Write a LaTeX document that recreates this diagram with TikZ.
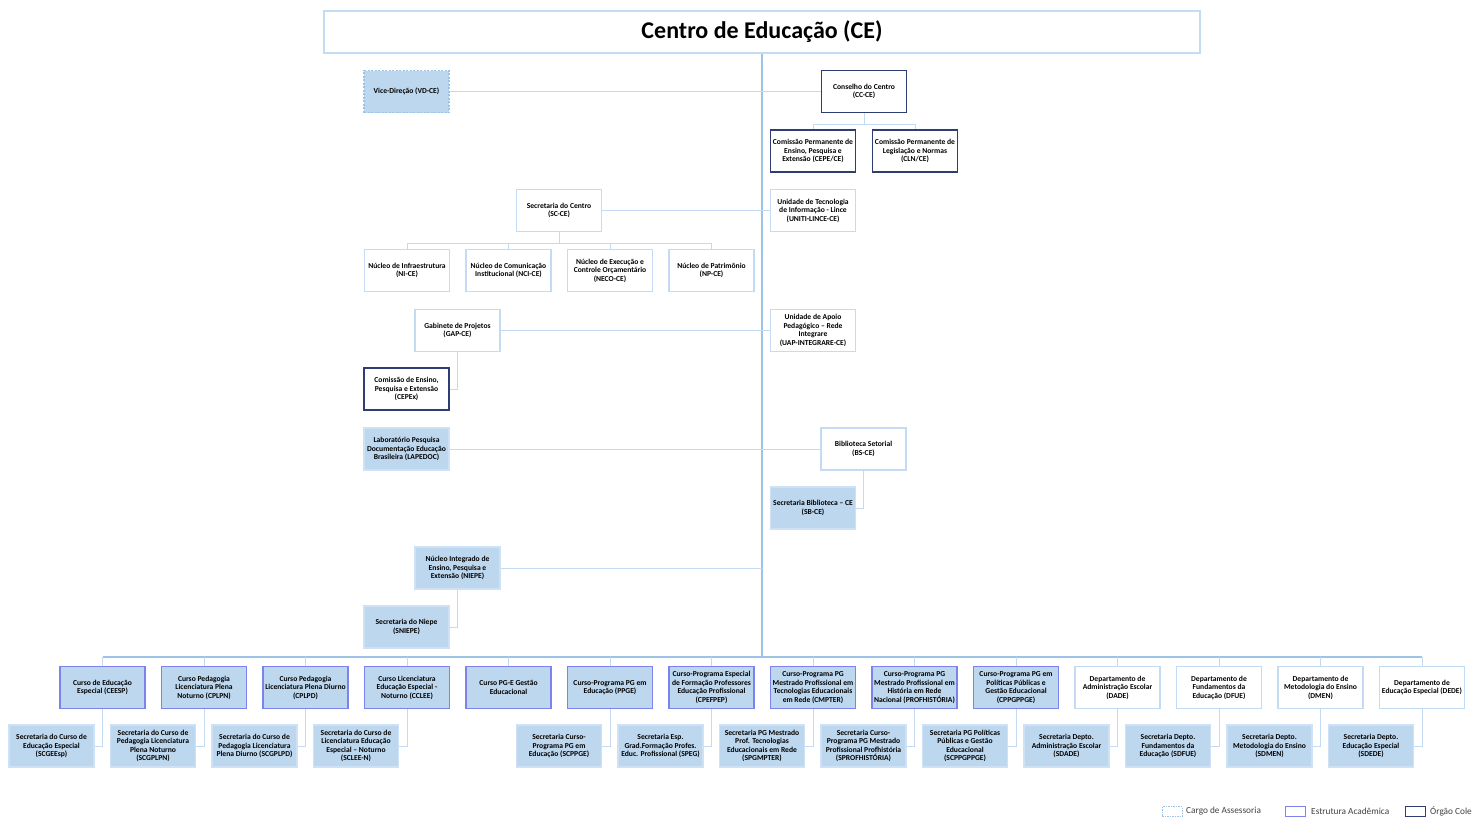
\documentclass[tikz,border=0pt]{standalone}
\usepackage{fontspec}
\setmainfont{Carlito}
\definecolor{linkblue}{HTML}{C3DAF2}
\definecolor{trunkblue}{HTML}{9DC3E6}
\definecolor{fillblue}{HTML}{BDD7EE}
\definecolor{paleedge}{HTML}{C4DBF4}
\definecolor{navyedge}{HTML}{2F3E70}
\definecolor{acadedge}{HTML}{7E83EC}
\definecolor{secedge}{HTML}{CFE2F5}
\definecolor{legendgray}{HTML}{404040}
\begin{document}
\begin{tikzpicture}[x=1pt,y=-1pt,
  orgbase/.style={rectangle, minimum width=85pt, minimum height=42pt, inner sep=0pt,
    align=center, font=\fontsize{7.6}{8.5}\selectfont\bfseries, text=black, line width=1.3pt},
  plainbox/.style={orgbase, draw=paleedge, fill=white},
  fillbox/.style={orgbase, draw=secedge, fill=fillblue},
  councilbox/.style={orgbase, draw=navyedge, fill=white, line width=1.2pt},
  coursebox/.style={orgbase, draw=acadedge, fill=fillblue},
  advbox/.style={orgbase, draw=trunkblue, fill=fillblue, dash pattern=on 2pt off 1.5pt},
  link/.style={draw=linkblue, line width=1pt},
  trunk/.style={draw=trunkblue, line width=2.6pt},
  legbox/.style={rectangle, minimum width=20pt, minimum height=10pt, inner sep=0pt, line width=1pt, fill=white},
  legtext/.style={anchor=west, inner sep=0pt, font=\fontsize{9.3}{10}\selectfont, text=legendgray}
]
\path[use as bounding box] (0,0) rectangle (1472,819);
\clip (0,0) rectangle (1472,819);

% title bar
\node[rectangle, draw=paleedge, fill=white, line width=1.3pt, minimum width=876pt, minimum height=42pt,
  font=\fontsize{24}{26}\selectfont\bfseries] (title) at (762,32) {Centro de Educação (CE)};

% upper units
\node[advbox] (vd) at (406.5,91.5) {Vice-Direção (VD-CE)};
\node[councilbox] (cc) at (864,91.5) {Conselho do Centro\\(CC-CE)};
\node[councilbox] (cepe) at (813,151) {Comissão Permanente de\\Ensino, Pesquisa e\\Extensão (CEPE/CE)};
\node[councilbox] (cln) at (915,151) {Comissão Permanente de\\Legislação e Normas\\(CLN/CE)};

\node[plainbox] (sc) at (559,210.5) {Secretaria do Centro\\(SC-CE)};
\node[plainbox] (uniti) at (813,210.5) {Unidade de Tecnologia\\de Informação - Lince\\(UNITI-LINCE-CE)};
\node[plainbox] (ni) at (407,270.5) {Núcleo de Infraestrutura\\(NI-CE)};
\node[plainbox] (nci) at (508.5,270.5) {Núcleo de Comunicação\\Institucional (NCI-CE)};
\node[plainbox] (neco) at (610,270.5) {Núcleo de Execução e\\Controle Orçamentário\\(NECO-CE)};
\node[plainbox] (np) at (711.5,270.5) {Núcleo de Patrimônio\\(NP-CE)};

\node[plainbox] (gap) at (457.5,330.5) {Gabinete de Projetos\\(GAP-CE)};
\node[plainbox] (uap) at (813,330.5) {Unidade de Apoio\\Pedagógico – Rede\\Integrare\\(UAP-INTEGRARE-CE)};
\node[councilbox] (cepex) at (406.5,389) {Comissão de Ensino,\\Pesquisa e Extensão\\(CEPEx)};

\node[fillbox] (lapedoc) at (406.5,449) {Laboratório Pesquisa\\Documentação Educação\\Brasileira (LAPEDOC)};
\node[plainbox] (bs) at (863.5,449) {Biblioteca Setorial\\(BS-CE)};
\node[fillbox] (sb) at (813,508) {Secretaria Biblioteca – CE\\(SB-CE)};

\node[fillbox] (niepe) at (457.5,568) {Núcleo Integrado de\\Ensino, Pesquisa e\\Extensão (NIEPE)};
\node[fillbox] (sniepe) at (406.5,627) {Secretaria do Niepe\\(SNIEPE)};

% courses and departments
\node[coursebox] (c0) at (102.5,687.5) {Curso de Educação\\Especial (CEESP)};
\node[coursebox] (c1) at (204,687.5) {Curso Pedagogia\\Licenciatura Plena\\Noturno (CPLPN)};
\node[coursebox] (c2) at (305.5,687.5) {Curso Pedagogia\\Licenciatura Plena Diurno\\(CPLPD)};
\node[coursebox] (c3) at (407,687.5) {Curso Licenciatura\\Educação Especial -\\Noturno (CCLEE)};
\node[coursebox] (c4) at (508.5,687.5) {Curso PG-E Gestão\\Educacional};
\node[coursebox] (c5) at (610,687.5) {Curso-Programa PG em\\Educação (PPGE)};
\node[coursebox] (c6) at (711.5,687.5) {Curso-Programa Especial\\de Formação Professores\\Educação Profissional\\(CPEFPEP)};
\node[coursebox] (c7) at (813,687.5) {Curso-Programa PG\\Mestrado Profissional em\\Tecnologias Educacionais\\em Rede (CMPTER)};
\node[coursebox] (c8) at (914.5,687.5) {Curso-Programa PG\\Mestrado Profissional em\\História em Rede\\Nacional (PROFHISTÓRIA)};
\node[coursebox] (c9) at (1016,687.5) {Curso-Programa PG em\\Políticas Públicas e\\Gestão Educacional\\(CPPGPPGE)};
\node[plainbox] (c10) at (1117.5,687.5) {Departamento de\\Administração Escolar\\(DADE)};
\node[plainbox] (c11) at (1219,687.5) {Departamento de\\Fundamentos da\\Educação (DFUE)};
\node[plainbox] (c12) at (1320.5,687.5) {Departamento de\\Metodologia do Ensino\\(DMEN)};
\node[plainbox] (c13) at (1422,687.5) {Departamento de\\Educação Especial (DEDE)};

% secretariats
\node[fillbox] (s0) at (51.5,746) {Secretaria do Curso de\\Educação Especial\\(SCGEEsp)};
\node[fillbox] (s1) at (153,746) {Secretaria do Curso de\\Pedagogia Licenciatura\\Plena Noturno\\(SCGPLPN)};
\node[fillbox] (s2) at (254.5,746) {Secretaria do Curso de\\Pedagogia Licenciatura\\Plena Diurno (SCGPLPD)};
\node[fillbox] (s3) at (356,746) {Secretaria do Curso de\\Licenciatura Educação\\Especial – Noturno\\(SCLEE-N)};
\node[fillbox] (s5) at (559,746) {Secretaria Curso-\\Programa PG em\\Educação (SCPPGE)};
\node[fillbox] (s6) at (660.5,746) {Secretaria Esp.\\Grad.Formação Profes.\\Educ. Profissional (SPEG)};
\node[fillbox] (s7) at (762,746) {Secretaria PG Mestrado\\Prof. Tecnologias\\Educacionais em Rede\\(SPGMPTER)};
\node[fillbox] (s8) at (863.5,746) {Secretaria Curso-\\Programa PG Mestrado\\Profissional Profhistória\\(SPROFHISTÓRIA)};
\node[fillbox] (s9) at (965,746) {Secretaria PG Políticas\\Públicas e Gestão\\Educacional\\(SCPPGPPGE)};
\node[fillbox] (s10) at (1066.5,746) {Secretaria Depto.\\Administração Escolar\\(SDADE)};
\node[fillbox] (s11) at (1168,746) {Secretaria Depto.\\Fundamentos da\\Educação (SDFUE)};
\node[fillbox] (s12) at (1269.5,746) {Secretaria Depto.\\Metodologia do Ensino\\(SDMEN)};
\node[fillbox] (s13) at (1371,746) {Secretaria Depto.\\Educação Especial\\(SDEDE)};

% main trunk and bus
\coordinate (bus) at (762,657);
\draw[trunk] (title.south) -- (bus);
\draw[trunk] (bus -| c0.north) -- (bus -| c13.north);
\foreach \i in {0,...,13} {\draw[link] (bus -| c\i.north) -- (c\i.north);}
\foreach \i in {0,1,2,3,5,6,7,8,9,10,11,12,13} {\draw[link] (c\i.south) |- (s\i.east);}

% upper connectors
\draw[link] (vd) -- (cc);
\draw[link] (cc.south) -- ++(0,11) coordinate (ccj);
\draw[link] (ccj) -| (cepe.north);
\draw[link] (ccj) -| (cln.north);
\draw[link] (sc) -- (uniti);
\draw[link] (sc.south) -- ++(0,11) coordinate (scj);
\foreach \n in {ni,nci,neco,np} {\draw[link] (scj) -| (\n.north);}
\draw[link] (gap) -- (uap);
\draw[link] (gap.south) |- (cepex.east);
\draw[link] (lapedoc) -- (bs);
\draw[link] (bs.south) |- (sb.east);
\draw[link] (niepe.east) -- (niepe.east -| bus);
\draw[link] (niepe.south) |- (sniepe.east);

% legend
\node[legbox, draw=trunkblue, dash pattern=on 1.5pt off 1pt] (lga) at (1172,811.5) {};
\node[legtext] (lgat) at (1186,811.5) {Cargo de Assessoria};
\node[legbox, draw=acadedge] (lgb) at (1295.5,811.5) {};
\node[legtext] (lgbt) at (1311,811.5) {Estrutura Acadêmica};
\node[legbox, draw=navyedge] (lgc) at (1415,811.5) {};
\node[legtext] (lgct) at (1430,811.5) {Órgão Colegiado};
\end{tikzpicture}
\end{document}
